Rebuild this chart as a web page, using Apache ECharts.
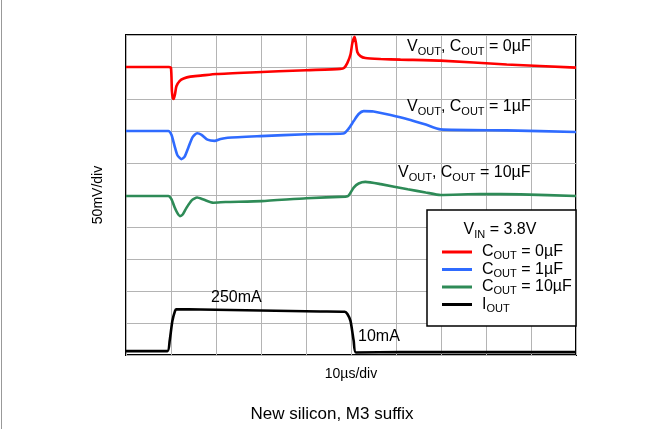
<!DOCTYPE html>
<html>
<head>
<meta charset="utf-8">
<script src="https://cdn.jsdelivr.net/npm/echarts@6/dist/echarts.min.js"></script>
<style>
html, body { margin: 0; padding: 0; background: #fff; }
#chart { width: 664px; height: 429px; }
</style>
</head>
<body>
<div id="chart"></div>
<script>
const FONT = '"Liberation Sans", Arial, Helvetica, sans-serif';

// Horizontal axis: time in µs (10 µs/div). Vertical axis: screen divisions (50 mV/div).
const xTicks = [0, 10, 20, 30, 40, 50, 60, 70, 80, 90, 100];
const yTicks = [0, 1, 2, 3, 4, 5, 6, 7, 8, 9, 10];

// VOUT trace, COUT = 0µF
const c0Time = [0, 9.5, 10, 10.2, 10.4, 10.6, 10.9, 11.2, 11.9, 12.8, 14.3, 16.6, 20.1, 27.7, 40.1, 47.6, 48.5, 49.2, 49.9, 50.3, 50.8, 51.1, 51.4, 52.1, 53.2, 56.6, 61.0, 69.9, 84.6, 100];
const c0Volt = [9.0, 9.0, 8.97, 8.25, 8.03, 8.0, 8.16, 8.4, 8.56, 8.64, 8.70, 8.73, 8.78, 8.83, 8.9, 8.94, 8.98, 9.13, 9.4, 9.75, 9.94, 9.75, 9.47, 9.34, 9.28, 9.25, 9.23, 9.2, 9.08, 8.98];

// VOUT trace, COUT = 1µF
const c1Time = [0, 9.4, 10.1, 10.8, 11.4, 12.3, 13.0, 13.9, 14.8, 15.8, 16.8, 18.1, 19.7, 21.0, 22.6, 29.9, 40.1, 48.3, 49.4, 50.6, 51.7, 52.8, 55.0, 58.8, 62.6, 66.6, 69.9, 84.6, 100];
const c1Volt = [7.0, 7.0, 6.88, 6.53, 6.25, 6.12, 6.19, 6.5, 6.81, 6.93, 6.88, 6.73, 6.69, 6.75, 6.79, 6.84, 6.9, 6.92, 7.06, 7.31, 7.53, 7.62, 7.61, 7.5, 7.37, 7.2, 7.05, 7.02, 6.97];

// VOUT trace, COUT = 10µF
const c10Time = [0, 9.4, 10.1, 10.8, 11.4, 12.0, 12.6, 13.4, 14.6, 15.8, 17.2, 19.4, 22.1, 30.1, 40.1, 48.8, 49.4, 50.6, 51.7, 53.2, 56.6, 62.6, 66.6, 69.9, 78.8, 87.7, 100];
const c10Volt = [4.97, 4.97, 4.87, 4.62, 4.44, 4.34, 4.39, 4.59, 4.83, 4.92, 4.86, 4.76, 4.78, 4.81, 4.9, 4.95, 4.97, 5.23, 5.36, 5.41, 5.34, 5.18, 5.08, 5.0, 5.03, 5.02, 4.97];

// IOUT load step, 10mA -> 250mA -> 10mA
const ioutTime = [0, 9.2, 9.7, 10.3, 10.9, 11.2, 16.6, 29.9, 43.2, 48.6, 49.2, 49.9, 50.6, 51.1, 61.0, 100];
const ioutLevel = [0.12, 0.12, 0.44, 1.06, 1.38, 1.43, 1.42, 1.39, 1.36, 1.35, 1.28, 1.06, 0.44, 0.08, 0.09, 0.09];

const seriesNames = ['COUT = 0µF', 'COUT = 1µF', 'COUT = 10µF', 'IOUT'];
const seriesColors = ['#ff0000', '#2f6bff', '#2e8b57', '#000000'];
const legendText = {
  'COUT = 0µF': '{n|C}{s|OUT}{n| = 0µF}',
  'COUT = 1µF': '{n|C}{s|OUT}{n| = 1µF}',
  'COUT = 10µF': '{n|C}{s|OUT}{n| = 10µF}',
  'IOUT': '{n|I}{s|OUT}'
};

const zip = (xs, ys) => xs.map((x, i) => [x, ys[i]]);
const traces = [zip(c0Time, c0Volt), zip(c1Time, c1Volt), zip(c10Time, c10Volt), zip(ioutTime, ioutLevel)];

function richStyles(size, lh) {
  return {
    n: { fontSize: size, lineHeight: lh, fontFamily: FONT, color: '#000' },
    s: { fontSize: 11, lineHeight: 12, verticalAlign: 'bottom', fontFamily: FONT, color: '#000' }
  };
}

function note(text, x, y, align) {
  return {
    type: 'text', z: 6, x: x, y: y,
    style: { text: text, rich: richStyles(16, 20), align: align || 'left', verticalAlign: 'middle' }
  };
}

const chart = echarts.init(document.getElementById('chart'), null, { renderer: 'canvas' });

chart.setOption({
  animation: false,
  backgroundColor: '#fff',
  textStyle: { fontFamily: FONT },
  title: {
    text: 'New silicon, M3 suffix',
    left: 'center', top: 401,
    textStyle: { fontSize: 17, fontWeight: 'normal', color: '#000', fontFamily: FONT }
  },
  grid: {
    left: 126, right: 88, top: 35, bottom: 74,
    show: true, borderColor: '#000', borderWidth: 2, backgroundColor: 'transparent'
  },
  xAxis: {
    type: 'value', min: xTicks[0], max: xTicks[xTicks.length - 1], interval: xTicks[1] - xTicks[0],
    name: '10µs/div', nameLocation: 'middle', nameGap: 12,
    nameTextStyle: { fontSize: 14, color: '#000', fontFamily: FONT, verticalAlign: 'top' },
    axisLine: { show: false }, axisTick: { show: false }, axisLabel: { show: false },
    splitLine: { show: true, lineStyle: { color: '#b4b4b4', width: 1 } }
  },
  yAxis: {
    type: 'value', min: yTicks[0], max: yTicks[yTicks.length - 1], interval: yTicks[1] - yTicks[0],
    name: '50mV/div', nameLocation: 'middle', nameGap: 21,
    nameTextStyle: { fontSize: 14, color: '#000', fontFamily: FONT },
    axisLine: { show: false }, axisTick: { show: false }, axisLabel: { show: false },
    splitLine: { show: true, lineStyle: { color: '#b4b4b4', width: 1 } }
  },
  legend: {
    orient: 'vertical', left: 437, top: 239,
    itemWidth: 30, itemHeight: 3, itemGap: 0, icon: 'rect', z: 10,
    data: seriesNames,
    formatter: name => legendText[name],
    textStyle: { rich: richStyles(16, 19), padding: [0, 0, 0, 5] }
  },
  series: seriesNames.map((name, i) => ({
    name: name,
    type: 'line',
    data: traces[i],
    symbol: 'none',
    smooth: 0.2,
    color: seriesColors[i],
    lineStyle: { color: seriesColors[i], width: 2.6 }
  })),
  graphic: [
    { type: 'line', z: 1, shape: { x1: 1.5, y1: 0, x2: 1.5, y2: 429 }, style: { stroke: '#999', lineWidth: 1 } },
    { type: 'rect', z: 5, shape: { x: 427, y: 210, width: 149, height: 116 }, style: { fill: '#fff', stroke: '#000', lineWidth: 1.5 } },
    note('{n|V}{s|IN}{n| = 3.8V}', 500, 230, 'center'),
    note('{n|V}{s|OUT}{n|, C}{s|OUT}{n| = 0µF}', 407, 47),
    note('{n|V}{s|OUT}{n|, C}{s|OUT}{n| = 1µF}', 407, 107),
    note('{n|V}{s|OUT}{n|, C}{s|OUT}{n| = 10µF}', 398, 173),
    note('{n|250mA}', 211, 298),
    note('{n|10mA}', 358, 337)
  ]
});
</script>
</body>
</html>
